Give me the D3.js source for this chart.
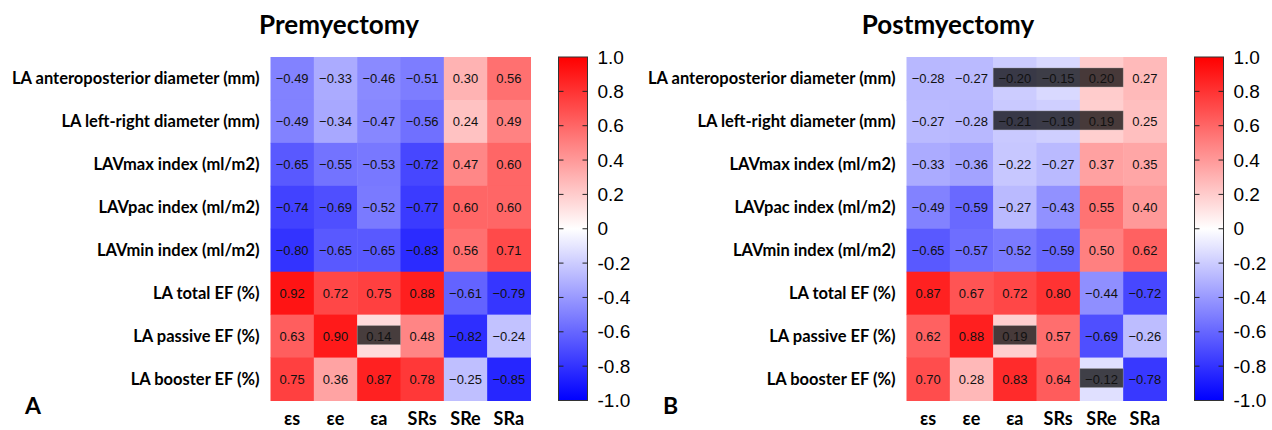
<!DOCTYPE html>
<html>
<head>
<meta charset="utf-8">
<script src="https://cdn.jsdelivr.net/npm/d3@7"></script>
<style>
  html, body { margin: 0; padding: 0; background: #fff; }
  svg { display: block; }
</style>
</head>
<body>
<svg id="chart" width="1272" height="430"></svg>
<script>
// ---------- data ----------
const rowLabels = [
  "LA anteroposterior diameter (mm)",
  "LA left-right diameter (mm)",
  "LAVmax index (ml/m2)",
  "LAVpac index (ml/m2)",
  "LAVmin index (ml/m2)",
  "LA total EF (%)",
  "LA passive EF (%)",
  "LA booster EF (%)"
];
const colLabels = ["εs", "εe", "εa", "SRs", "SRe", "SRa"];

const preValues = [
  [-0.49, -0.33, -0.46, -0.51, 0.30, 0.56],
  [-0.49, -0.34, -0.47, -0.56, 0.24, 0.49],
  [-0.65, -0.55, -0.53, -0.72, 0.47, 0.60],
  [-0.74, -0.69, -0.52, -0.77, 0.60, 0.60],
  [-0.80, -0.65, -0.65, -0.83, 0.56, 0.71],
  [0.92, 0.72, 0.75, 0.88, -0.61, -0.79],
  [0.63, 0.90, 0.14, 0.48, -0.82, -0.24],
  [0.75, 0.36, 0.87, 0.78, -0.25, -0.85]
];
const postValues = [
  [-0.28, -0.27, -0.20, -0.15, 0.20, 0.27],
  [-0.27, -0.28, -0.21, -0.19, 0.19, 0.25],
  [-0.33, -0.36, -0.22, -0.27, 0.37, 0.35],
  [-0.49, -0.59, -0.27, -0.43, 0.55, 0.40],
  [-0.65, -0.57, -0.52, -0.59, 0.50, 0.62],
  [0.87, 0.67, 0.72, 0.80, -0.44, -0.72],
  [0.62, 0.88, 0.19, 0.57, -0.69, -0.26],
  [0.70, 0.28, 0.83, 0.64, -0.12, -0.78]
];

// highlighted (dark) boxes: row index, first column, last column
const preBoxes = [
  { row: 6, from: "εa", to: "εa" }
];
const postBoxes = [
  { row: 0, from: "εa", to: "SRe" },
  { row: 1, from: "εa", to: "SRe" },
  { row: 6, from: "εa", to: "εa" },
  { row: 7, from: "SRe", to: "SRe" }
];

const colorTickValues = [1.0, 0.8, 0.6, 0.4, 0.2, 0, -0.2, -0.4, -0.6, -0.8, -1.0];
const colorTickLabels = ["1.0", "0.8", "0.6", "0.4", "0.2", "0", "-0.2", "-0.4", "-0.6", "-0.8", "-1.0"];

const panels = [
  { title: "Premyectomy", letter: "A", values: preValues, boxes: preBoxes,
    left: 270.5, titleX: 339, letterX: 25, gid: "gradA" },
  { title: "Postmyectomy", letter: "B", values: postValues, boxes: postBoxes,
    left: 906.5, titleX: 948, letterX: 663, gid: "gradB" }
];

// ---------- drawing ----------
const svg = d3.select("#chart");
const plotTop = 57, plotBottom = 400.5, heatW = 260;
const labelFont = "Lato, 'Open Sans', sans-serif";
const numFont = "'Liberation Sans', Arial, sans-serif";

const color = d3.scaleLinear().domain([-1, 0, 1]).range(["#0000ff", "#ffffff", "#ff0000"]);

panels.forEach(p => {
  const g = svg.append("g");
  const x = d3.scaleBand().domain(colLabels).range([p.left, p.left + heatW]);
  const y = d3.scaleBand().domain(d3.range(rowLabels.length)).range([plotTop, plotBottom]);

  // title
  g.append("text")
    .attr("x", p.titleX).attr("y", 34)
    .attr("text-anchor", "middle")
    .style("font-family", labelFont).style("font-weight", "bold").style("font-size", "26px")
    .attr("fill", "#000")
    .text(p.title);

  // cells
  const cells = [];
  p.values.forEach((row, r) => row.forEach((v, c) => cells.push({ r, c: colLabels[c], v })));

  g.selectAll("rect.cell").data(cells).join("rect")
    .attr("class", "cell")
    .attr("x", d => x(d.c)).attr("y", d => y(d.r))
    .attr("width", x.bandwidth() + 0.5).attr("height", y.bandwidth() + 0.5)
    .attr("fill", d => color(d.v));

  // dark highlight boxes
  const boxH = 19;
  g.selectAll("rect.box").data(p.boxes).join("rect")
    .attr("class", "box")
    .attr("x", d => x(d.from))
    .attr("width", d => x(d.to) + x.bandwidth() - x(d.from))
    .attr("y", d => y(d.row) + y.bandwidth() / 2 - boxH / 2 - 1)
    .attr("height", boxH)
    .attr("fill", "#000").attr("fill-opacity", 0.72)
    .attr("stroke", "#aaa").attr("stroke-opacity", 0.6).attr("stroke-width", 0.6);

  // cell values
  g.selectAll("text.val").data(cells).join("text")
    .attr("class", "val")
    .attr("x", d => x(d.c) + x.bandwidth() / 2)
    .attr("y", d => y(d.r) + y.bandwidth() / 2 + 4.5)
    .attr("text-anchor", "middle")
    .style("font-family", numFont).style("font-size", "13px")
    .attr("fill", "#111")
    .text(d => d3.format(".2f")(d.v));

  // row labels
  g.selectAll("text.rowlab").data(rowLabels).join("text")
    .attr("class", "rowlab")
    .attr("x", p.left - 11)
    .attr("y", (d, i) => y(i) + y.bandwidth() / 2 + 6)
    .attr("text-anchor", "end")
    .style("font-family", labelFont).style("font-weight", "bold").style("font-size", "16.5px")
    .attr("fill", "#000")
    .text(d => d);

  // column labels
  g.selectAll("text.collab").data(colLabels).join("text")
    .attr("class", "collab")
    .attr("x", d => x(d) + x.bandwidth() / 2)
    .attr("y", 425)
    .attr("text-anchor", "middle")
    .style("font-family", labelFont).style("font-weight", "bold").style("font-size", "18px")
    .attr("fill", "#000")
    .text(d => d);

  // panel letter
  g.append("text")
    .attr("x", p.letterX).attr("y", 414)
    .style("font-family", labelFont).style("font-weight", "bold").style("font-size", "23px")
    .attr("fill", "#000")
    .text(p.letter);

  // colour bar
  const cbX = p.left + heatW + 28, cbW = 29;
  const cy = d3.scaleLinear().domain([-1, 1]).range([plotBottom, plotTop]);
  const defs = svg.append("defs");
  const grad = defs.append("linearGradient").attr("id", p.gid)
    .attr("x1", 0).attr("y1", 0).attr("x2", 0).attr("y2", 1);
  d3.range(-1, 1.0001, 0.1).reverse().forEach(v => {
    grad.append("stop").attr("offset", (1 - v) / 2).attr("stop-color", color(v));
  });
  g.append("rect")
    .attr("x", cbX).attr("y", cy(1)).attr("width", cbW).attr("height", cy(-1) - cy(1))
    .attr("fill", `url(#${p.gid})`)
    .attr("stroke", "#333").attr("stroke-width", 1);

  const inner = colorTickValues.filter(v => Math.abs(v) < 0.999);
  g.selectAll("line.tl").data(inner).join("line")
    .attr("x1", cbX).attr("x2", cbX + 5)
    .attr("y1", d => cy(d)).attr("y2", d => cy(d))
    .attr("stroke", "#222").attr("stroke-width", 1);
  g.selectAll("line.tr").data(inner).join("line")
    .attr("x1", cbX + cbW - 5).attr("x2", cbX + cbW)
    .attr("y1", d => cy(d)).attr("y2", d => cy(d))
    .attr("stroke", "#222").attr("stroke-width", 1);

  const axis = d3.axisRight(cy)
    .tickValues(colorTickValues)
    .tickSize(0).tickPadding(10)
    .tickFormat((d, i) => colorTickLabels[i]);
  const ag = g.append("g").attr("transform", `translate(${cbX + cbW},0)`).call(axis);
  ag.select(".domain").remove();
  ag.selectAll("text")
    .style("font-family", numFont).style("font-size", "19px").attr("fill", "#000");
});
</script>
</body>
</html>
